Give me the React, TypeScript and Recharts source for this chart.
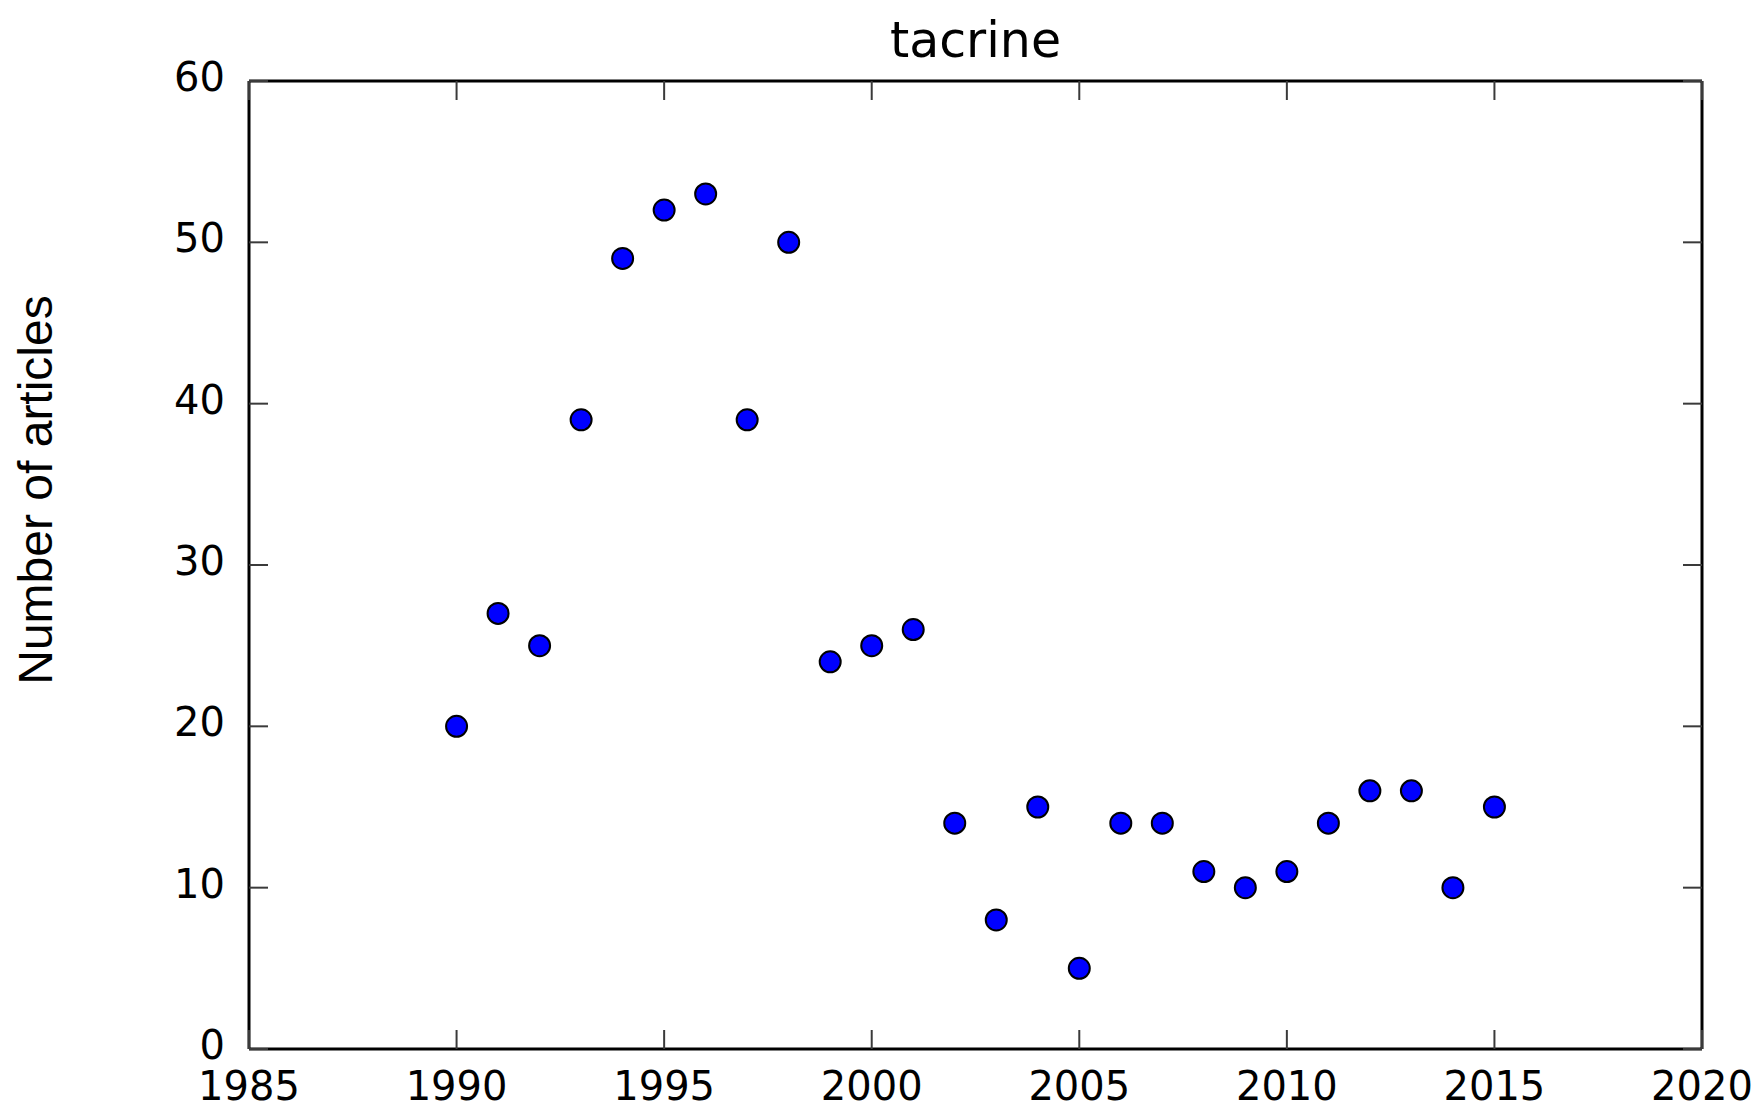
import React from 'react';
import { ScatterChart, Scatter, XAxis, YAxis, Label } from 'recharts';

const years = [
  1990, 1991, 1992, 1993, 1994, 1995, 1996, 1997, 1998, 1999, 2000, 2001, 2002,
  2003, 2004, 2005, 2006, 2007, 2008, 2009, 2010, 2011, 2012, 2013, 2014, 2015,
];
const articles = [
  20, 27, 25, 39, 49, 52, 53, 39, 50, 24, 25, 26, 14,
  8, 15, 5, 14, 14, 11, 10, 11, 14, 16, 16, 10, 15,
];
const xTicks = [1985, 1990, 1995, 2000, 2005, 2010, 2015, 2020];
const yTicks = [0, 10, 20, 30, 40, 50, 60];
const title = 'tacrine';
const yLabel = 'Number of articles';

const data = years.map((year, i) => ({ year, count: articles[i] }));

const TICK_LEN = 19;
const tickColor = '#3a3a3a';
const tickFont = 'DejaVu Sans, sans-serif';
const frame = { stroke: '#000', strokeWidth: 3 };

const bottomTick = ({ x, y, payload }: any) => (
  <g>
    <path d={`M${x},${y}V${y - TICK_LEN}`} stroke={tickColor} strokeWidth={2} fill="none" />
    <text x={x} y={y + 51} textAnchor="middle" fontFamily={tickFont} fontSize={40} fill="#000">
      {payload.value}
    </text>
  </g>
);

const leftTick = ({ x, y, payload }: any) => (
  <g>
    <path d={`M${x},${y}H${x + TICK_LEN}`} stroke={tickColor} strokeWidth={2} fill="none" />
    <text x={x - 24} y={y + 10} textAnchor="end" fontFamily={tickFont} fontSize={40} fill="#000">
      {payload.value}
    </text>
  </g>
);

const topTick = ({ x, y }: any) => (
  <path d={`M${x},${y}V${y + TICK_LEN}`} stroke={tickColor} strokeWidth={2} fill="none" />
);

const rightTick = ({ x, y }: any) => (
  <path d={`M${x},${y}H${x - TICK_LEN}`} stroke={tickColor} strokeWidth={2} fill="none" />
);

const dot = ({ cx, cy }: any) => (
  <circle cx={cx} cy={cy} r={10.5} fill="#0000ff" stroke="#000" strokeWidth={2} />
);

// the mirrored top/right axes only get ticks when a series is bound to them
const hidden = () => <g />;

export default function App() {
  return (
    <div style={{ position: 'absolute', left: 0, top: 0, background: '#fff' }}>
      <ScatterChart width={1760} height={1112} margin={{ top: 0, right: 0, bottom: 0, left: 0 }}>
        <XAxis
          xAxisId="b"
          dataKey="year"
          type="number"
          domain={[1985, 2020]}
          ticks={xTicks}
          interval={0}
          height={63}
          tickSize={0}
          tickMargin={0}
          tickLine={false}
          axisLine={frame}
          tick={bottomTick}
        />
        <XAxis
          xAxisId="t"
          orientation="top"
          dataKey="year"
          type="number"
          domain={[1985, 2020]}
          ticks={xTicks}
          interval={0}
          height={81}
          tickSize={0}
          tickMargin={0}
          tickLine={false}
          axisLine={frame}
          tick={topTick}
        >
          <Label
            content={({ viewBox }: any) => (
              <text
                x={viewBox.x + viewBox.width / 2}
                y={viewBox.y + viewBox.height - 24}
                textAnchor="middle"
                fontFamily={tickFont}
                fontSize={49}
                fill="#000"
              >
                {title}
              </text>
            )}
          />
        </XAxis>
        <YAxis
          yAxisId="l"
          dataKey="count"
          type="number"
          domain={[0, 60]}
          ticks={yTicks}
          interval={0}
          width={249}
          tickSize={0}
          tickMargin={0}
          tickLine={false}
          axisLine={frame}
          tick={leftTick}
        >
          <Label
            content={({ viewBox }: any) => {
              const lx = viewBox.x + 52;
              const ly = 490;
              return (
                <text
                  x={lx}
                  y={ly}
                  transform={`rotate(-90 ${lx} ${ly})`}
                  textAnchor="middle"
                  fontFamily="Liberation Sans, Arial, sans-serif"
                  fontSize={48}
                  fill="#000"
                >
                  {yLabel}
                </text>
              );
            }}
          />
        </YAxis>
        <YAxis
          yAxisId="r"
          orientation="right"
          dataKey="count"
          type="number"
          domain={[0, 60]}
          ticks={yTicks}
          interval={0}
          width={58}
          tickSize={0}
          tickMargin={0}
          tickLine={false}
          axisLine={frame}
          tick={rightTick}
        />
        <Scatter
          data={data}
          xAxisId="t"
          yAxisId="r"
          dataKey="count"
          shape={hidden}
          isAnimationActive={false}
        />
        <Scatter
          data={data}
          xAxisId="b"
          yAxisId="l"
          dataKey="count"
          shape={dot}
          isAnimationActive={false}
        />
      </ScatterChart>
    </div>
  );
}
